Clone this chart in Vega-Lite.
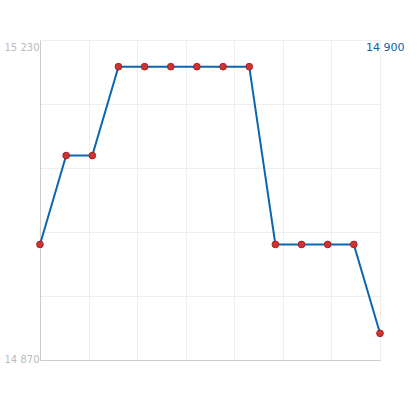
{
  "$schema": "https://vega.github.io/schema/vega-lite/v6.json",
  "width": 340,
  "height": 320,
  "autosize": {"type": "none"},
  "padding": {"left": 40, "top": 40, "right": 40, "bottom": 40},
  "background": "white",
  "config": {"view": {"stroke": null}, "font": "DejaVu Sans",
    "locale": {"number": {"decimal": ".", "thousands": " ", "grouping": [3], "currency": ["", ""]}}},
  "data": {"values": [
    {"i": 0, "v": 15000},
    {"i": 1, "v": 15100},
    {"i": 2, "v": 15100},
    {"i": 3, "v": 15200},
    {"i": 4, "v": 15200},
    {"i": 5, "v": 15200},
    {"i": 6, "v": 15200},
    {"i": 7, "v": 15200},
    {"i": 8, "v": 15200},
    {"i": 9, "v": 15000},
    {"i": 10, "v": 15000},
    {"i": 11, "v": 15000},
    {"i": 12, "v": 15000},
    {"i": 13, "v": 14900}
  ]},
  "encoding": {
    "x": {"field": "i", "type": "quantitative",
      "scale": {"domain": [0, 13], "nice": false, "zero": false},
      "axis": {"title": null, "labels": false, "ticks": false, "domain": true, "domainColor": "#cccccc",
        "grid": true, "gridColor": "#eeeeee",
        "values": [0, 1.857, 3.714, 5.571, 7.429, 9.286, 11.143, 13]}},
    "y": {"field": "v", "type": "quantitative",
      "scale": {"domain": [14870, 15230], "nice": false, "zero": false},
      "axis": {"title": null, "ticks": false, "domain": true, "domainColor": "#cccccc",
        "grid": true, "gridColor": "#eeeeee",
        "values": [14870, 14942, 15014, 15086, 15158, 15230],
        "labelExpr": "datum.value == 14870 || datum.value == 15230 ? format(datum.value, ',') : ''",
        "labelColor": "#bbbbbb", "labelFontSize": 10, "labelPadding": 1, "labelOffset": 2,
        "labelBaseline": {"expr": "datum.value == 15230 ? 'top' : 'alphabetic'"}}}
  },
  "layer": [
    {"mark": {"type": "line", "color": "#0a66b0", "strokeWidth": 2}},
    {"mark": {"type": "point", "filled": true, "color": "#cc3333", "stroke": "#aa2222", "strokeWidth": 1, "size": 45, "opacity": 1}},
    {"transform": [{"filter": "datum.i == 13"}],
     "mark": {"type": "text", "align": "left", "baseline": "top", "dx": -14, "dy": 2, "fontSize": 11, "color": "#1060a8"},
     "encoding": {"y": {"datum": 15230, "type": "quantitative"},
       "text": {"field": "v", "type": "quantitative", "format": ","}}}
  ]
}
